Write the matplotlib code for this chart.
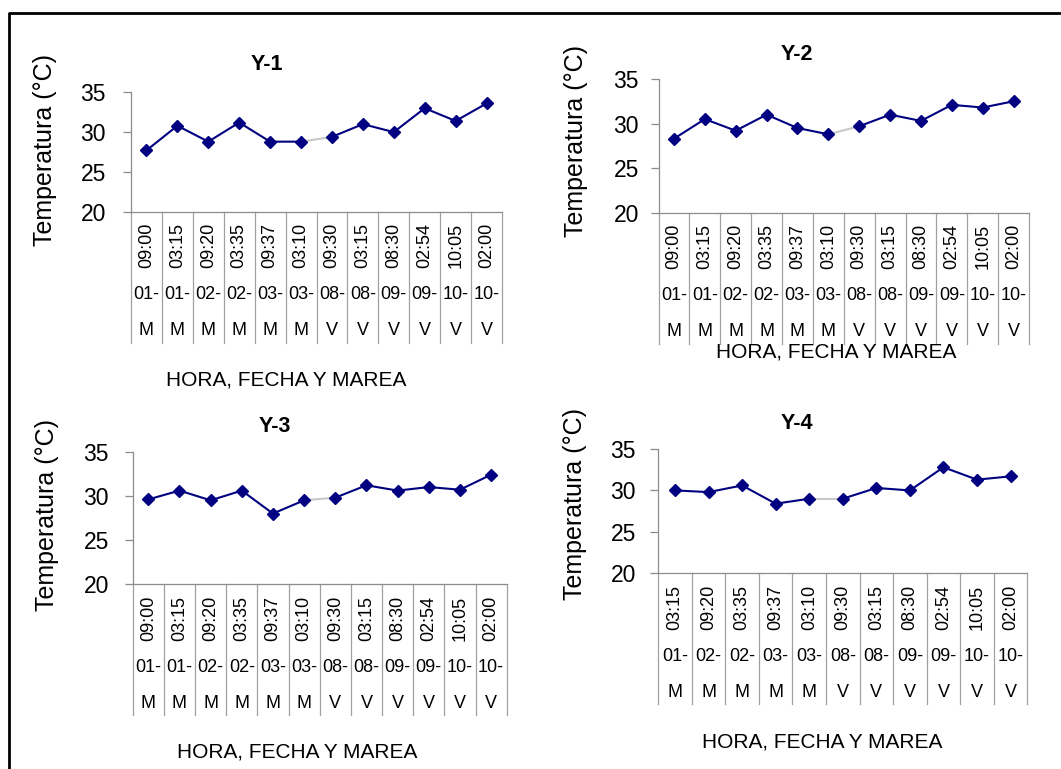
import matplotlib
matplotlib.use("Agg")
import matplotlib.pyplot as plt
from matplotlib.lines import Line2D
from matplotlib.transforms import blended_transform_factory

plt.rcParams['font.family'] = ['Liberation Sans', 'DejaVu Sans']

W, H = 1061, 769
NAVY = "#000080"
GRIS = "#8c8c8c"

# hora, fecha y marea de cada muestreo
horas = ["09:00", "03:15", "09:20", "03:35", "09:37", "03:10",
         "09:30", "03:15", "08:30", "02:54", "10:05", "02:00"]
fechas = ["01-", "01-", "02-", "02-", "03-", "03-",
          "08-", "08-", "09-", "09-", "10-", "10-"]
mareas = ["M", "M", "M", "M", "M", "M", "V", "V", "V", "V", "V", "V"]

# Y-4 no tiene el primer muestreo
horas_y4 = horas[1:]
fechas_y4 = fechas[1:]
mareas_y4 = mareas[1:]

temp_y1 = [27.7, 30.8, 28.8, 31.2, 28.8, 28.8, 29.4, 31.0, 30.0, 33.0, 31.4, 33.6]
temp_y2 = [28.3, 30.5, 29.2, 31.0, 29.5, 28.8, 29.7, 31.0, 30.3, 32.1, 31.8, 32.5]
temp_y3 = [29.6, 30.6, 29.5, 30.6, 28.0, 29.5, 29.8, 31.2, 30.6, 31.0, 30.7, 32.4]
temp_y4 = [30.0, 29.8, 30.6, 28.4, 29.0, 29.0, 30.3, 30.0, 32.8, 31.3, 31.7]


def px(x, y):
    return x / W, 1 - y / H


fig = plt.figure(figsize=(W / 100, H / 100), dpi=100)


def panel(box, titulo, horas, fechas, mareas, temps, t_xy, yl_xy, xl_xy, pad):
    left, right, top, bottom = box
    ax = fig.add_axes([left / W, 1 - bottom / H, (right - left) / W, (bottom - top) / H])
    hpx = bottom - top
    n = len(temps)
    xs = list(range(n))
    k = mareas.index("V")

    ax.plot(xs[:k], temps[:k], color=NAVY, lw=1.5)
    ax.plot(xs[k - 1:k + 1], temps[k - 1:k + 1], color="#c8c8c8", lw=1.5)
    ax.plot(xs[k:], temps[k:], color=NAVY, lw=1.5)
    ax.plot(xs, temps, ls="none", marker="D", ms=6.5, color=NAVY, zorder=5)

    ax.set_xlim(-0.5, n - 0.5)
    ax.set_ylim(20, 35)
    ax.set_yticks([20, 25, 30, 35])
    ax.set_xticks([])
    for s in ["top", "right"]:
        ax.spines[s].set_visible(False)
    for s in ["left", "bottom"]:
        ax.spines[s].set_color(GRIS)
        ax.spines[s].set_linewidth(0.9)
    ax.tick_params(axis="y", length=6, width=0.9, color=GRIS, labelsize=16.5, pad=pad)

    # tabla de categorias bajo el eje
    tr = blended_transform_factory(ax.transData, ax.transAxes)
    for i in range(n + 1):
        ax.add_line(Line2D([i - 0.5, i - 0.5], [0, -131 / hpx], transform=tr,
                           color="#a0a0a0", lw=0.9, clip_on=False))
    for i in range(n):
        ax.text(i, -34 / hpx, horas[i], transform=tr, rotation=90, fontsize=13,
                ha="center", va="center", clip_on=False)
        ax.text(i, -83 / hpx, fechas[i], transform=tr, fontsize=13,
                ha="center", va="center", clip_on=False)
        ax.text(i, -119 / hpx, mareas[i], transform=tr, fontsize=13,
                ha="center", va="center", clip_on=False)

    fig.text(*px(*t_xy), titulo, fontsize=15.5, fontweight="bold", ha="center", va="center")
    fig.text(*px(*yl_xy), "Temperatura (°C)", fontsize=18, rotation=90,
             ha="center", va="center")
    fig.text(*px(*xl_xy), "HORA, FECHA Y MAREA", fontsize=15, ha="center", va="center")
    return ax


panel((131, 502, 92.3, 211.7), "Y-1", horas, fechas, mareas, temp_y1,
      (267, 64), (45, 150), (286, 380), 12)
panel((658.5, 1029, 79, 212.7), "Y-2", horas, fechas, mareas, temp_y2,
      (797, 55), (576, 141), (836, 352), 8)
panel((132.7, 506.7, 451.7, 584.3), "Y-3", horas, fechas, mareas, temp_y3,
      (275, 426), (47, 515), (297, 752), 11)
panel((658.3, 1027.3, 449, 573.3), "Y-4", horas_y4, fechas_y4, mareas_y4, temp_y4,
      (797, 424), (575, 504), (822, 742), 10)

# marco exterior
fig.add_artist(Line2D([9 / W, 9 / W, 1], [0, 1 - 12.5 / H, 1 - 12.5 / H],
                      transform=fig.transFigure, color="black", lw=2))

fig.savefig("out.png", dpi=100)
